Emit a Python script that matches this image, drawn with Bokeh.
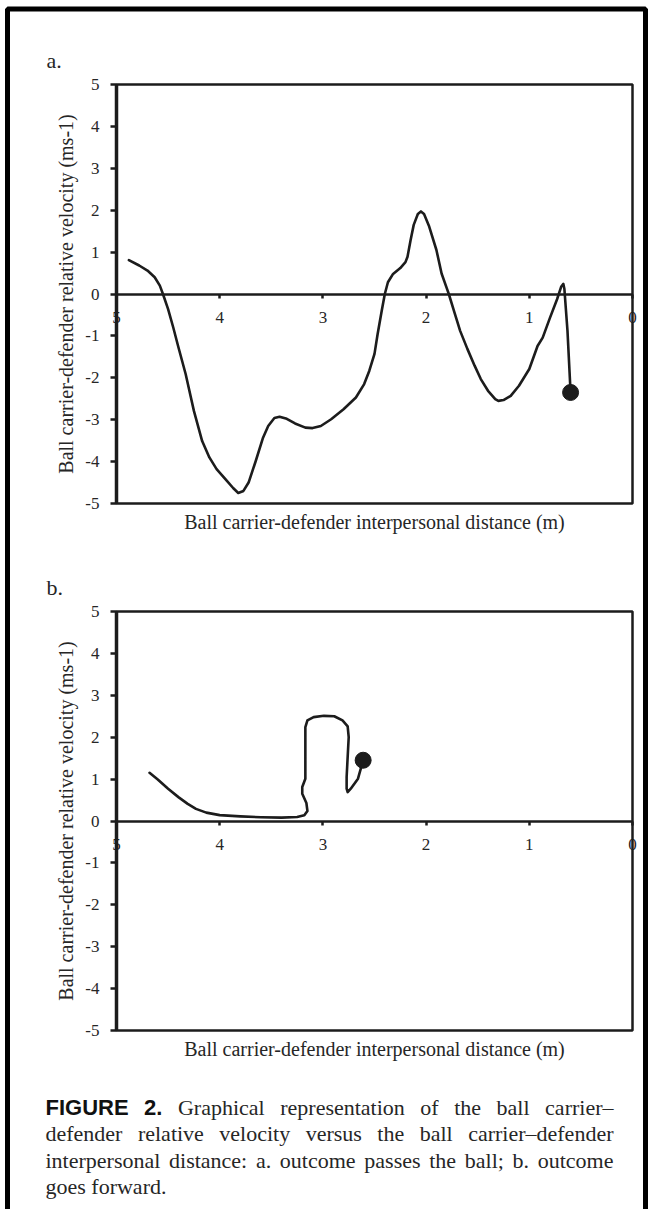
import math
from bokeh.plotting import figure
from bokeh.models import Range1d, LinearAxis, FixedTicker, BoxAnnotation, Label, ColumnDataSource
from bokeh.core.properties import value
from bokeh.embed import file_html
from bokeh.resources import INLINE

# ---------------- data ----------------
A_DIST = [4.88, 4.78, 4.70, 4.63, 4.58, 4.55, 4.50, 4.45, 4.40, 4.33, 4.25, 4.17, 4.10, 4.03,
          3.93, 3.87, 3.82, 3.77, 3.72, 3.65, 3.58, 3.53, 3.47, 3.42, 3.35, 3.27, 3.17,
          3.10, 3.02, 2.92, 2.80, 2.68, 2.60, 2.55, 2.50, 2.47, 2.43, 2.40, 2.37, 2.32,
          2.25, 2.20, 2.18, 2.15, 2.12, 2.08, 2.05, 2.02, 1.97, 1.90, 1.85, 1.80, 1.78,
          1.73, 1.67, 1.60, 1.53, 1.47, 1.40, 1.33, 1.30, 1.25, 1.18, 1.10, 1.00, 0.92,
          0.87, 0.80, 0.73, 0.69, 0.67, 0.66, 0.63, 0.60]
A_VEL = [0.81, 0.68, 0.56, 0.40, 0.20, 0.0, -0.36, -0.80, -1.27, -1.91, -2.79, -3.51, -3.90,
         -4.18, -4.46, -4.63, -4.75, -4.70, -4.50, -3.98, -3.43, -3.15, -2.96, -2.93, -2.98,
         -3.09, -3.19, -3.20, -3.15, -2.99, -2.75, -2.47, -2.15, -1.83, -1.43, -0.96, -0.40,
         0.0, 0.28, 0.48, 0.62, 0.76, 0.89, 1.29, 1.65, 1.91, 1.97, 1.91, 1.61, 1.05, 0.49,
         0.14, 0.0, -0.40, -0.88, -1.31, -1.71, -2.03, -2.31, -2.51, -2.55, -2.53, -2.43,
         -2.19, -1.79, -1.24, -1.04, -0.57, -0.12, 0.18, 0.24, 0.12, -0.88, -2.35]

B_DIST = [4.68, 4.60, 4.50, 4.40, 4.31, 4.23, 4.13, 4.00, 3.80, 3.60, 3.40, 3.25, 3.18,
          3.15, 3.16, 3.20, 3.20, 3.17, 3.17, 3.17, 3.17, 3.15, 3.09, 2.99, 2.89, 2.81,
          2.76, 2.75, 2.76, 2.77, 2.77, 2.76, 2.73, 2.66, 2.61]
B_VEL = [1.15, 0.99, 0.77, 0.57, 0.41, 0.29, 0.20, 0.14, 0.11, 0.09, 0.08, 0.095, 0.135,
         0.24, 0.43, 0.65, 0.81, 1.01, 1.37, 1.93, 2.24, 2.40, 2.48, 2.51, 2.50, 2.40,
         2.26, 2.00, 1.53, 1.05, 0.77, 0.69, 0.77, 1.01, 1.45]

X_TICKS = [0, 1, 2, 3, 4, 5]
X_TICK_LABELS = ["0", "1", "2", "3", "4", "5"]
Y_TICKS = [-5, -4, -3, -2, -1, 0, 1, 2, 3, 4, 5]
Y_TICK_LABELS = ["-5", "-4", "-3", "-2", "-1", "0", "1", "2", "3", "4", "5"]
PANEL_NAMES = ["a", "b"]
PANEL_LABELS = ["a.", "b."]
X_TITLE = "Ball carrier-defender interpersonal distance (m)"
Y_TITLE = "Ball carrier-defender relative velocity (ms-1)"
CAPTION_LINES = [
    "FIGURE 2. Graphical representation of the ball carrier\u2013",
    "defender relative velocity versus the ball carrier\u2013defender",
    "interpersonal distance: a. outcome passes the ball; b. outcome",
    "goes forward.",
]
BOLD_WORDS = {"FIGURE", "2."}

# ---------------- layout / style ----------------
W, H = 648, 1209
INK = "#1c1c1c"
TXT = "#262626"
SERIF = "Liberation Serif"
SANS = "Liberation Sans"
PX_LEFT, PX_RIGHT = 116.0, 632.0          # canvas px of x=5 and x=0
UX = (PX_RIGHT - PX_LEFT) / (max(X_TICKS) - min(X_TICKS))
PANEL_TOPS = {"a": 84.0, "b": 611.0}     # canvas px of y=5
UY = 41.9
X_MAX, X_MIN = max(X_TICKS), min(X_TICKS)
Y_MAX, Y_MIN = max(Y_TICKS), min(Y_TICKS)

x_range = Range1d(start=X_MAX + PX_LEFT / UX, end=X_MIN - (W - PX_RIGHT) / UX)
p = figure(width=W, height=H, x_range=x_range, y_range=Range1d(H, 0),
           x_axis_type=None, y_axis_type=None, toolbar_location=None,
           output_backend="svg", min_border=0, outline_line_color=None)
p.title.visible = False
p.extra_x_ranges = {"px": Range1d(0, W)}
p.extra_y_ranges = {n: Range1d(start=Y_MAX - (H - t) / UY, end=Y_MAX + t / UY)
                    for n, t in PANEL_TOPS.items()}

# outer frame (no bottom edge visible)
p.add_layout(BoxAnnotation(left=7.0, right=645.0, top=8.5, bottom=H + 40,
                           x_range_name="px", fill_alpha=0, line_color="black",
                           line_alpha=1.0, line_width=5))

panel_data = {"a": (A_DIST, A_VEL), "b": (B_DIST, B_VEL)}

for name, plabel in zip(PANEL_NAMES, PANEL_LABELS):
    xs, ys = panel_data[name]
    top = PANEL_TOPS[name]
    bottom = top + (Y_MAX - Y_MIN) * UY

    xa = LinearAxis(y_range_name=name, fixed_location=0, bounds=(X_MIN, X_MAX),
                    ticker=FixedTicker(ticks=X_TICKS),
                    major_label_overrides=dict(zip(X_TICKS, X_TICK_LABELS)))
    xa.axis_line_width = 2.5
    xa.axis_line_color = INK
    xa.major_tick_out = 4
    xa.major_tick_in = 0
    xa.major_tick_line_width = 2.5
    xa.major_tick_line_color = INK
    xa.minor_tick_line_color = None
    xa.major_label_standoff = 14
    xa.major_label_text_font = SERIF
    xa.major_label_text_font_size = "17px"
    xa.major_label_text_color = TXT
    p.add_layout(xa, "below")

    ya = LinearAxis(y_range_name=name, fixed_location=X_MAX, bounds=(Y_MIN, Y_MAX),
                    ticker=FixedTicker(ticks=Y_TICKS),
                    major_label_overrides=dict(zip(Y_TICKS, Y_TICK_LABELS)))
    ya.axis_line_width = 3.5
    ya.axis_line_color = INK
    ya.major_tick_out = 6
    ya.major_tick_in = 0
    ya.major_tick_line_width = 2.5
    ya.major_tick_line_color = INK
    ya.minor_tick_line_color = None
    ya.major_label_standoff = 11
    ya.major_label_text_font = SERIF
    ya.major_label_text_font_size = "17px"
    ya.major_label_text_color = TXT
    p.add_layout(ya, "left")

    p.add_layout(BoxAnnotation(left=X_MAX, right=X_MIN, top=Y_MAX, bottom=Y_MIN,
                               y_range_name=name, fill_alpha=0, line_color=INK,
                               line_alpha=1.0, line_width=2.5))

    p.line(xs, ys, y_range_name=name, line_width=2.6, line_color=INK,
           line_join="round", line_cap="round")
    p.scatter([xs[-1]], [ys[-1]], y_range_name=name, size=16, fill_color=INK,
              line_color=INK)

    p.add_layout(Label(x=65.5, y=(Y_MAX + Y_MIN) / 2, x_range_name="px", y_range_name=name,
                       text=Y_TITLE, angle=math.pi / 2, text_align="center",
                       text_baseline="middle", text_font=SERIF, text_font_size="20px",
                       text_color=TXT))
    p.add_layout(Label(x=(X_MAX + X_MIN) / 2, y=bottom + 18, text=X_TITLE,
                       text_align="center", text_baseline="middle", text_font=SERIF,
                       text_font_size="20px", text_color=TXT))
    p.add_layout(Label(x=46, y=top - 24, x_range_name="px", text=plabel,
                       text_align="left", text_baseline="alphabetic", text_font=SERIF,
                       text_font_size="22px", text_color=TXT))

# ---------------- caption (justified) ----------------
TIMES = {' ': 250, '.': 250, ',': 250, ':': 278, ';': 278, '-': 333, '\u2013': 500,
         '(': 333, ')': 333, 'a': 444, 'b': 500, 'c': 444, 'd': 500, 'e': 444, 'f': 333,
         'g': 500, 'h': 500, 'i': 278, 'j': 278, 'k': 500, 'l': 278, 'm': 778, 'n': 500,
         'o': 500, 'p': 500, 'q': 500, 'r': 333, 's': 389, 't': 278, 'u': 500, 'v': 500,
         'w': 722, 'x': 500, 'y': 500, 'z': 444, 'G': 722}
HELVB = {'F': 611, 'I': 278, 'G': 778, 'U': 722, 'R': 722, 'E': 667, '2': 556, '.': 278,
         ' ': 278}
CAP_SIZE = 22
CAP_LEFT, CAP_RIGHT = 45.0, 613.0
CAP_BASE, CAP_LEAD = 1107.0, 26.4


def word_w(word, bold):
    table = HELVB if bold else TIMES
    return sum(table.get(c, 500) for c in word) * CAP_SIZE / 1000.0


reg = dict(x=[], y=[], text=[])
bld = dict(x=[], y=[], text=[])
for i, line in enumerate(CAPTION_LINES):
    words = line.split(" ")
    bolds = [(i == 0 and w in BOLD_WORDS) for w in words]
    widths = [word_w(w, b) for w, b in zip(words, bolds)]
    if i < len(CAPTION_LINES) - 1 and len(words) > 1:
        gap = (CAP_RIGHT - CAP_LEFT - sum(widths)) / (len(words) - 1)
    else:
        gap = TIMES[' '] * CAP_SIZE / 1000.0
    xpos = CAP_LEFT
    ypos = CAP_BASE + i * CAP_LEAD
    for w, b, wd in zip(words, bolds, widths):
        d = bld if b else reg
        d["x"].append(xpos)
        d["y"].append(ypos)
        d["text"].append(w)
        xpos += wd + gap

p.text(x="x", y="y", text="text", source=ColumnDataSource(reg), x_range_name="px",
       text_font=value(SERIF), text_font_size=value("22px"), text_color=TXT,
       text_align="left", text_baseline="alphabetic")
p.text(x="x", y="y", text="text", source=ColumnDataSource(bld), x_range_name="px",
       text_font=value(SANS), text_font_style="bold", text_font_size=value("22px"),
       text_color="#111111", text_align="left", text_baseline="alphabetic")

open("out.html", "w").write(file_html(p, INLINE))
